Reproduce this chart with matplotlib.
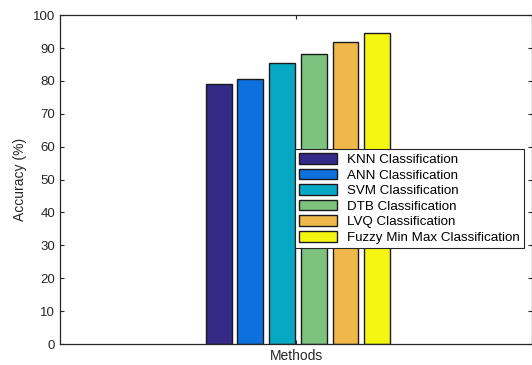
import numpy as np
import matplotlib.pyplot as plt

plt.rcParams['font.family'] = ['Liberation Sans', 'DejaVu Sans']

methods = ['KNN Classification', 'ANN Classification', 'SVM Classification',
           'DTB Classification', 'LVQ Classification', 'Fuzzy Min Max Classification']
accuracy = [79.2, 80.5, 85.5, 88.2, 91.8, 94.5]
colors = ['#352a87', '#0e70dd', '#07a8c4', '#7dc27e', '#f0b74b', '#f5f512']

fig = plt.figure(figsize=(5.32, 3.65), dpi=100)
ax = fig.add_axes([0.113, 0.0575, 0.887, 0.901])

step = 0.0672
for i, (m, v, c) in enumerate(zip(methods, accuracy, colors)):
    ax.bar(1.004 + (i - 2.5) * step, v, width=0.055, color=c,
           edgecolor='#1a1a1a', linewidth=1.0, label=m)

ax.set_xlim(0.5, 1.5)
ax.set_ylim(0, 100)
ax.set_yticks(np.arange(0, 101, 10))
ax.set_xticks([1])
ax.set_xticklabels([''])
ax.tick_params(direction='in', length=3, width=0.8, labelsize=9.5,
               top=True, right=True, colors='#262626')
for s in ax.spines.values():
    s.set_linewidth(0.9)
    s.set_color('#262626')
ax.set_ylabel('Accuracy (%)', fontsize=10, color='#262626')
ax.set_xlabel('Methods', fontsize=10, color='#262626', labelpad=0)

leg = ax.legend(loc='lower left', bbox_to_anchor=(0.497, 0.292), fontsize=9.6,
                handlelength=2.9, handleheight=0.85, handletextpad=0.75,
                labelspacing=0.2, borderpad=0.3, borderaxespad=0,
                fancybox=False, framealpha=1, edgecolor='#262626')
leg.get_frame().set_linewidth(0.8)

fig.savefig('out.png', dpi=100)
